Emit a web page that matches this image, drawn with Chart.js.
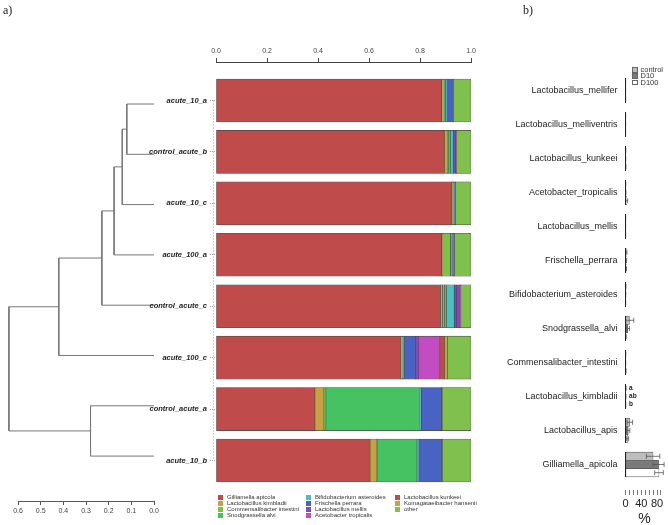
<!DOCTYPE html>
<html>
<head>
<meta charset="utf-8">
<script src="https://cdn.jsdelivr.net/npm/chart.js@4.4.1/dist/chart.umd.min.js"></script>
<style>
body { margin: 0; background: #fff; }
#wrap { position: relative; width: 668px; height: 525px; overflow: hidden; font-family: "Liberation Sans", Arial, sans-serif; }
canvas { position: absolute; top: 0; }
.tag { position: absolute; top: 3px; font-family: "Liberation Serif", serif; font-size: 12px; color: #222; }
.legCol { position: absolute; font-size: 6px; line-height: 6px; color: #333; white-space: nowrap; }
.legCol span.box { display: inline-block; width: 5px; height: 5px; margin-right: 4px; vertical-align: -0.5px; }
#legB { position: absolute; left: 632px; top: 67px; font-size: 7.5px; line-height: 6.3px; color: #333; }
#legB span.box { display: inline-block; width: 5.5px; height: 5.5px; margin-right: 3px; border: 0.6px solid #666; box-sizing: border-box; vertical-align: -0.5px; }
</style>
</head>
<body>
<div id="wrap">
  <canvas id="dendro" width="216" height="525" style="left:0;width:216px;height:525px"></canvas>
  <canvas id="bars" width="360" height="525" style="left:120px;width:360px;height:525px"></canvas>
  <canvas id="means" width="188" height="525" style="left:480px;width:188px;height:525px"></canvas>
  <div class="tag" style="left:3px">a)</div>
  <div class="tag" style="left:523px">b)</div>
  <div id="legA"></div>
  <div id="legB"></div>
</div>
<script>
Chart.defaults.font.family = '"Liberation Sans", Arial, sans-serif'

// ---- panel a: relative abundance per sample ----
const samples = ['acute_10_a', 'control_acute_b', 'acute_10_c', 'acute_100_a', 'control_acute_c', 'acute_100_c', 'control_acute_a', 'acute_10_b']
const taxa = ['Gilliamella apicola', 'Lactobacillus kimbladii', 'Commensalibacter intestini', 'Snodgrassella alvi',
  'Bifidobacterium asteroides', 'Frischella perrara', 'Lactobacillus mellis', 'Acetobacter tropicalis',
  'Lactobacillus kunkeei', 'Komagataeibacter hansenii', 'other']
const taxaColors = ['#bf4b4b', '#c7a244', '#80c044', '#46c262', '#4cc0c0', '#4863c2', '#7b4cc3', '#c24cc2', '#c24b4b', '#c7a244', '#80c04e']

const gilliamella      = [0.885, 0.895, 0.925, 0.885, 0.880, 0.725, 0.388, 0.604]
const kimbladii        = [0.005, 0.012, 0.002, 0.004, 0.008, 0.004, 0.035, 0.027]
const commensalibacter = [0.004, 0.003, 0.002, 0.030, 0.008, 0.002, 0.008, 0.002]
const snodgrassella    = [0.006, 0.010, 0.003, 0.008, 0.008, 0.004, 0.369, 0.155]
const bifidobacterium  = [0.005, 0.010, 0.002, 0.003, 0.030, 0.003, 0.005, 0.008]
const frischella       = [0.025, 0.010, 0.004, 0.004, 0.008, 0.045, 0.080, 0.090]
const mellis           = [0.002, 0.002, 0.002, 0.001, 0.015, 0.010, 0.001, 0.001]
const acetobacter      = [0, 0, 0, 0, 0.002, 0.085, 0, 0]
const kunkeei          = [0, 0.002, 0, 0, 0.001, 0.018, 0, 0]
const komagataeibacter = [0, 0, 0, 0, 0, 0.012, 0.001, 0]
const other            = [0.068, 0.056, 0.060, 0.065, 0.040, 0.092, 0.113, 0.113]
const abundance = [gilliamella, kimbladii, commensalibacter, snodgrassella, bifidobacterium, frischella,
  mellis, acetobacter, kunkeei, komagataeibacter, other]
const relTicks = [0, 0.2, 0.4, 0.6, 0.8, 1.0]

// dendrogram: pairs of merged nodes (leaves 0-7, merges 8+) and their heights
const dendroPairs = [[0, 1], [8, 2], [9, 3], [10, 4], [11, 5], [6, 7], [12, 13]]
const dendroHeights = [0.12, 0.14, 0.176, 0.23, 0.42, 0.28, 0.64]
const dendroTicks = [0, 0.1, 0.2, 0.3, 0.4, 0.5, 0.6]

// ---- panel b: mean % per treatment ----
const species = ['Lactobacillus_mellifer', 'Lactobacillus_melliventris', 'Lactobacillus_kunkeei', 'Acetobacter_tropicalis',
  'Lactobacillus_mellis', 'Frischella_perrara', 'Bifidobacterium_asteroides', 'Snodgrassella_alvi',
  'Commensalibacter_intestini', 'Lactobacillus_kimbladii', 'Lactobacillus_apis', 'Gilliamella_apicola']
const groups = ['control', 'D10', 'D100']
const groupColors = ['#bdbdbd', '#7a7a7a', '#ffffff']
const controlMean = [0.1, 0.1, 0.3, 0.3, 0.2, 2.0, 0.6, 10, 0.3, 0.8, 11, 70]
const d10Mean     = [0.1, 0.1, 0.2, 0.5, 0.1, 1.5, 0.3, 6, 0.2, 0.6, 7, 84]
const d100Mean    = [0.1, 0.1, 0.6, 3.0, 0.1, 1.5, 0.2, 1, 0.8, 0.4, 5, 85]
const controlErr  = [0.1, 0.1, 0.3, 0.3, 0.2, 1.5, 0.5, 11, 0.3, 0.5, 7, 17]
const d10Err      = [0.1, 0.1, 0.2, 0.5, 0.1, 1.2, 0.3, 4, 0.2, 0.4, 4, 14]
const d100Err     = [0.1, 0.1, 0.5, 2.5, 0.1, 1.2, 0.2, 1, 0.6, 0.3, 3, 11]
const kimbladiiLetters = ['a', 'ab', 'b']
const pctTicks = [0, 10, 20, 30, 40, 50, 60, 70, 80, 90]
const pctLabels = [0, 40, 80]

const means = [controlMean, d10Mean, d100Mean]
const errs = [controlErr, d10Err, d100Err]

// legends (html)
let legA = document.getElementById('legA')
const colLeft = [218, 306, 395]
const colStart = [0, 4, 8, 11]
for (let c = 0; c < 3; c++) {
  let col = document.createElement('div')
  col.className = 'legCol'
  col.style.left = colLeft[c] + 'px'
  col.style.top = '494px'
  for (let j = colStart[c]; j < colStart[c + 1]; j++) {
    col.innerHTML += '<div><span class="box" style="background:' + taxaColors[j] + '"></span>' + taxa[j] + '</div>'
  }
  legA.appendChild(col)
}
let legB = document.getElementById('legB')
groups.forEach((g, j) => {
  legB.innerHTML += '<div><span class="box" style="background:' + groupColors[j] + '"></span>' + g + '</div>'
})

// dendrogram
let nodeY = [], nodeH = []
samples.forEach((s, i) => { nodeY[i] = i; nodeH[i] = 0 })
dendroPairs.forEach(([a, b], k) => {
  nodeY[8 + k] = (nodeY[a] + nodeY[b]) / 2
  nodeH[8 + k] = dendroHeights[k]
})
const dendroSets = dendroPairs.map(([a, b], k) => ({
  data: [{ x: nodeH[a], y: nodeY[a] }, { x: dendroHeights[k], y: nodeY[a] },
         { x: dendroHeights[k], y: nodeY[b] }, { x: nodeH[b], y: nodeY[b] }],
  showLine: true, borderColor: '#777', borderWidth: 1, pointRadius: 0, clip: false, fill: false
}))

new Chart(document.getElementById('dendro'), {
  type: 'scatter',
  data: { datasets: dendroSets },
  options: {
    responsive: false, animation: false,
    layout: { padding: { left: 18, right: 62, top: 0, bottom: 0 } },
    plugins: { legend: { display: false }, tooltip: { enabled: false } },
    scales: {
      x: {
        type: 'linear', reverse: true, min: 0, max: 0.6, position: 'bottom',
        afterBuildTicks: s => { s.ticks = dendroTicks.map(v => ({ value: v })) },
        afterFit: s => { s.height = 24 },
        ticks: { font: { size: 7 }, color: '#444', padding: 2, callback: v => v.toFixed(1) },
        grid: { drawOnChartArea: false, tickLength: 4, color: '#555' },
        border: { color: '#555' }
      },
      y: { type: 'linear', reverse: true, min: -2.068, max: 7.893, display: false }
    }
  }
})

// stacked bars
const barSets = taxa.map((t, j) => ({
  label: t,
  data: abundance[j].map((v, i) => ({ x: v, y: i })).filter(p => p.x > 0),
  backgroundColor: taxaColors[j],
  borderColor: '#4a4a4a',
  borderWidth: 0.6,
  borderSkipped: false,
  barThickness: 43
}))

const dottedAxis = {
  id: 'dottedAxis',
  afterDraw(chart) {
    const ctx = chart.ctx, ys = chart.scales.y
    const x = chart.chartArea.left - 2.5
    ctx.save()
    ctx.strokeStyle = '#888'
    ctx.lineWidth = 0.8
    ctx.setLineDash([1, 2])
    ctx.beginPath()
    ctx.moveTo(x, ys.getPixelForValue(0))
    ctx.lineTo(x, ys.getPixelForValue(samples.length - 1))
    ctx.stroke()
    ctx.restore()
  }
}

new Chart(document.getElementById('bars'), {
  type: 'bar',
  data: { datasets: barSets },
  options: {
    indexAxis: 'y', responsive: false, animation: false,
    layout: { padding: { top: 0, right: 9, bottom: 35, left: 0 } },
    plugins: { legend: { display: false }, tooltip: { enabled: false } },
    scales: {
      x: {
        type: 'linear', position: 'top', stacked: true, min: 0, max: 1,
        afterBuildTicks: s => { s.ticks = relTicks.map(v => ({ value: v })) },
        afterFit: s => { s.height = 62 },
        ticks: { font: { size: 7 }, color: '#444', padding: 3, callback: v => v.toFixed(1) },
        grid: { drawOnChartArea: false, tickLength: 4, color: '#444' },
        border: { color: '#444' }
      },
      y: {
        type: 'linear', reverse: true, stacked: true, offset: false, min: -0.749, max: 7.574,
        afterBuildTicks: s => { s.ticks = samples.map((n, i) => ({ value: i })) },
        afterFit: s => { s.width = 96 },
        ticks: { font: { size: 7.5, style: 'italic', weight: 'bold' }, color: '#222', padding: 3, autoSkip: false, callback: v => samples[v] },
        grid: { offset: false, drawOnChartArea: false, tickLength: 6, tickColor: '#888', tickBorderDash: [1, 1], lineWidth: 0.8 },
        border: { display: false }
      }
    }
  },
  plugins: [dottedAxis]
})

// grouped bars with error bars
const errorBars = {
  id: 'errorBars',
  afterDatasetsDraw(chart) {
    const ctx = chart.ctx, xs = chart.scales.x
    ctx.save()
    ctx.strokeStyle = '#555'
    ctx.lineWidth = 0.8
    chart.data.datasets.forEach((ds, j) => {
      chart.getDatasetMeta(j).data.forEach((bar, i) => {
        const v = means[j][i], e = errs[j][i]
        const x0 = xs.getPixelForValue(Math.max(0, v - e)), x1 = xs.getPixelForValue(v + e)
        const y = bar.y
        ctx.beginPath()
        ctx.moveTo(x0, y); ctx.lineTo(x1, y)
        ctx.moveTo(x0, y - 2.5); ctx.lineTo(x0, y + 2.5)
        ctx.moveTo(x1, y - 2.5); ctx.lineTo(x1, y + 2.5)
        ctx.stroke()
      })
    })
    // significance letters for L. kimbladii
    const k = species.indexOf('Lactobacillus_kimbladii')
    ctx.fillStyle = '#222'
    ctx.font = 'bold 6.5px "Liberation Sans", Arial, sans-serif'
    ctx.textBaseline = 'middle'
    kimbladiiLetters.forEach((t, j) => {
      const bar = chart.getDatasetMeta(j).data[k]
      const xe = xs.getPixelForValue(Math.max(...means.map((m, g) => m[k] + errs[g][k])))
      ctx.fillText(t, xe + 3, bar.y)
    })
    ctx.restore()
  },
  afterDraw(chart) {
    // facet border for each species
    const ctx = chart.ctx, ys = chart.scales.y
    const x = chart.chartArea.left
    ctx.save()
    ctx.strokeStyle = '#222'
    ctx.lineWidth = 1
    ctx.beginPath()
    species.forEach((s, i) => {
      const y = ys.getPixelForValue(i)
      ctx.moveTo(x, y - 12.5)
      ctx.lineTo(x, y + 12.5)
    })
    ctx.stroke()
    ctx.restore()
  }
}

new Chart(document.getElementById('means'), {
  type: 'bar',
  data: {
    datasets: groups.map((g, j) => ({
      label: g,
      data: means[j].map((v, i) => ({ x: v, y: i })),
      backgroundColor: groupColors[j],
      borderColor: '#555',
      borderWidth: 0.6,
      borderSkipped: false,
      barThickness: 8.2
    }))
  },
  options: {
    indexAxis: 'y', responsive: false, animation: false,
    layout: { padding: { top: 73.5, right: 4.7, bottom: 0, left: 0 } },
    plugins: { legend: { display: false }, tooltip: { enabled: false } },
    scales: {
      x: {
        type: 'linear', min: 0, max: 96,
        afterBuildTicks: s => { s.ticks = pctTicks.map(v => ({ value: v })) },
        afterFit: s => { s.height = 35 },
        ticks: { font: { size: 11 }, color: '#222', padding: 2, autoSkip: false, maxRotation: 0,
                 callback: v => pctLabels.includes(v) ? String(v) : '' },
        grid: { drawOnChartArea: false, tickLength: 5, color: '#555', lineWidth: 0.8 },
        border: { display: false },
        title: { display: true, text: '%', font: { size: 14, lineHeight: 0.8 }, color: '#222', padding: { top: 0, bottom: 0 } }
      },
      y: {
        type: 'linear', reverse: true, offset: false, min: -0.5, max: 11.75,
        afterBuildTicks: s => { s.ticks = species.map((n, i) => ({ value: i })) },
        afterFit: s => { s.width = 145.5 },
        ticks: { font: { size: 9 }, color: '#222', padding: 8, autoSkip: false, callback: v => species[v] },
        grid: { offset: false, display: false, drawTicks: false },
        border: { display: false }
      }
    }
  },
  plugins: [errorBars]
})
</script>
</body>
</html>
